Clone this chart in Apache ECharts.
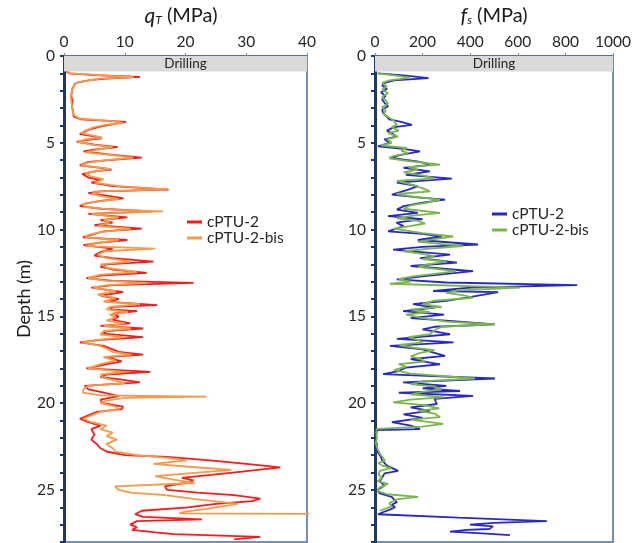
<!DOCTYPE html>
<html>
<head>
<meta charset="utf-8">
<script src="https://cdn.jsdelivr.net/npm/echarts@6/dist/echarts.min.js"></script>
<style>html,body{margin:0;padding:0;background:#fff}#c{width:636px;height:543px}</style>
</head>
<body>
<div id="c"></div>
<script>
// ---------- data ----------
const seriesNames = ['cPTU-2', 'cPTU-2-bis'];
const qtTicks = [0, 10, 20, 30, 40];
const fsTicks = [0, 200, 400, 600, 800, 1000];
const drillingDepth = [0, 0.9];

// qT cPTU-2 (MPa)
const qtRedDepth = [0.9,1.0,1.1,1.2,1.3,1.38,1.5,1.6,1.8,2.0,2.3,2.6,2.9,3.2,3.5,3.65,3.8,3.9,4.0,4.1,4.25,4.4,4.5,4.6,4.75,4.85,4.95,5.1,5.25,5.4,5.5,5.7,5.85,5.95,6.1,6.3,6.45,6.55,6.65,6.8,7.0,7.15,7.3,7.5,7.7,7.8,7.9,8.05,8.2,8.35,8.5,8.65,8.8,8.95,9.1,9.3,9.45,9.6,9.75,9.95,10.1,10.25,10.45,10.6,10.75,10.9,11.1,11.3,11.5,11.65,11.85,12.0,12.15,12.3,12.5,12.65,12.8,12.95,13.07,13.2,13.35,13.6,13.8,14.0,14.15,14.35,14.45,14.6,14.7,14.85,15.0,15.2,15.4,15.55,15.7,15.85,16.0,16.2,16.35,16.5,16.7,16.9,17.05,17.2,17.35,17.6,17.8,18.0,18.2,18.35,18.5,18.65,18.8,19.0,19.2,19.35,19.6,19.8,20.0,20.2,20.35,20.5,20.7,20.9,21.1,21.3,21.5,21.8,22.1,22.4,22.6,22.8,23.0,23.1,23.3,23.5,23.7,23.8,23.95,24.1,24.3,24.45,24.6,24.8,25.0,25.15,25.3,25.5,25.65,25.8,26.0,26.2,26.4,26.55,26.7,26.8,27.0,27.15,27.3,27.45,27.55,27.7,27.85];
const qtRed = [0.4,0.8,5,12.5,7,4.5,2.5,1.8,1.5,1.3,1.2,1.4,1.3,1.5,1.6,2.8,10.2,10.5,7,5.6,4,3.2,2.6,4.5,6.2,3.5,2.1,5,8.8,5,3.2,8,12.8,9,4,2.6,6,7.8,5,3,4,6,4.5,8,17.2,6,4,7,9.8,6,3.5,2.6,6,14.5,4,10.4,6,8,5,12.8,6.5,5,3.1,10.4,6,3.2,8,6,5,8,14.7,7,6,8,13.6,6,3.7,8,21.3,8,4.5,9.7,6,9,7,15.3,8,7.6,12,8,9,8,10.9,6,13,7,6.5,13,6,2.6,6.5,8,9,13,7,9.5,6.5,3.7,14.2,7,6,9.5,12.5,3.4,4,6,9,6,6.4,9.7,9.5,5.4,4,2.6,4,6,4.5,5,4.5,5.5,6,7.1,10,16.9,24,30,35.6,33,29.3,25,19.4,21.3,20,16.6,17,22,28,32.3,31,25,20.4,12.8,11.7,13,22.7,12,10.9,12,11.2,15,18,32.3,28];

// qT cPTU-2-bis (MPa)
const qtOrangeDepth = [0.9,1.0,1.15,1.22,1.3,1.4,1.55,1.8,2.1,2.4,2.8,3.1,3.4,3.6,3.75,3.85,3.95,4.1,4.3,4.45,4.6,4.7,4.8,4.95,5.1,5.25,5.4,5.55,5.7,5.85,6.0,6.15,6.3,6.5,6.6,6.75,6.95,7.1,7.3,7.5,7.68,7.8,7.95,8.1,8.25,8.4,8.55,8.7,8.85,8.95,9.1,9.3,9.45,9.6,9.8,9.95,10.15,10.3,10.45,10.6,10.8,10.95,11.1,11.25,11.45,11.65,11.85,12.0,12.2,12.45,12.6,12.8,12.95,13.07,13.2,13.35,13.55,13.75,13.95,14.15,14.3,14.45,14.6,14.75,14.9,15.05,15.25,15.4,15.55,15.7,15.85,16.05,16.2,16.35,16.5,16.7,16.85,17.05,17.2,17.35,17.55,17.75,18.0,18.2,18.35,18.55,18.7,18.85,19.0,19.2,19.4,19.55,19.62,19.7,19.85,20.0,20.2,20.35,20.5,20.7,20.9,21.1,21.3,21.5,21.7,21.9,22.1,22.35,22.6,22.8,23.0,23.15,23.3,23.5,23.65,23.85,24.0,24.2,24.4,24.6,24.8,25.0,25.15,25.3,25.55,25.8,26.0,26.1,26.25,26.35,26.38];
const qtOrange = [0.5,1,8,11.5,6,4,2,1.4,1.3,1.1,1.3,1.4,1.6,2.5,8,9.8,7,5,3.5,2.8,5,6.3,3.5,2.3,4.5,8,5.5,3.5,7.5,11.4,7,3.8,2.8,7.6,6,3.5,4.5,6.5,5,9,17,5.5,4.5,6.5,9,5,3,3.5,8,16.3,4.5,9,6.5,7.5,5.5,11,6,4,3.5,9,5,3.5,15,6.7,5.5,7,11,6,7,12,6,4,7,13.6,7,4.8,8.5,5.5,8.5,6.5,12.5,7.5,7,10.5,7.5,8.5,7,10,6.5,11,6.5,6,10,5.5,3,6,7,8,11,6.5,8.5,6,4,10,6,6.5,8.5,10,4,3.2,3.1,6,23.5,10,7,6,8.5,9,6,4.5,3.2,4.5,7,6,8,7,8.7,7,8,8.5,12,17,20.2,14.7,20,27.5,22,15,18,21.5,8.4,9,11,16.6,22,28.6,25,23.2,19.9,19,45];

// fs cPTU-2
const fsBlueDepth = [1.0,1.12,1.28,1.4,1.55,1.7,1.9,2.1,2.3,2.5,2.7,2.9,3.1,3.3,3.5,3.65,3.8,3.97,4.1,4.3,4.5,4.64,4.8,5.0,5.2,5.35,5.5,5.7,5.85,6.07,6.26,6.45,6.65,6.85,7.07,7.3,7.5,7.7,7.99,8.15,8.28,8.45,8.65,8.85,9.04,9.23,9.4,9.6,9.8,10.1,10.25,10.4,10.6,10.86,11.0,11.15,11.44,11.65,11.9,12.1,12.4,12.7,12.87,13.05,13.2,13.35,13.54,13.6,13.93,14.1,14.3,14.5,14.7,14.9,15.1,15.27,15.46,15.6,15.75,16.03,16.3,16.5,16.7,16.9,17.1,17.28,17.47,17.76,17.95,18.15,18.33,18.58,18.8,19.0,19.15,19.3,19.4,19.58,19.75,20.05,20.25,20.45,20.65,20.85,21.1,21.3,21.5,21.55,21.8,22.1,22.4,22.7,22.9,23.1,23.3,23.6,23.9,24.05,24.3,24.5,24.75,25.0,25.2,25.4,25.55,25.7,25.85,26.0,26.15,26.3,26.4,26.6,26.8,26.9,27.0,27.1,27.25,27.3,27.4,27.5,27.6];
const fsBlue = [13,120,225,80,40,30,50,25,45,30,40,55,30,35,50,60,110,155,80,50,75,90,40,60,13,120,189,110,63,176,240,120,231,130,323,92,180,140,71,180,294,200,120,92,180,55,200,90,120,55,200,280,180,433,200,76,315,190,344,150,412,200,92,300,849,400,244,517,380,300,160,250,118,290,150,328,504,250,200,315,92,330,63,200,250,294,150,273,130,100,34,504,118,300,200,357,100,412,250,260,150,230,120,200,71,150,189,10,5,3,8,5,15,25,30,50,97,40,30,20,40,10,20,70,80,92,70,84,60,30,13,350,722,500,399,496,480,386,315,450,567];

// fs cPTU-2-bis
const fsGreenDepth = [1.0,1.12,1.25,1.4,1.55,1.75,1.95,2.15,2.35,2.55,2.75,2.95,3.15,3.35,3.55,3.75,3.97,4.1,4.3,4.45,4.64,4.8,5.0,5.15,5.3,5.45,5.6,5.75,5.9,6.05,6.26,6.4,6.55,6.7,6.9,7.05,7.2,7.4,7.6,7.8,7.95,8.1,8.28,8.45,8.6,8.8,9.04,9.2,9.35,9.5,9.65,9.8,9.95,10.2,10.4,10.55,10.7,10.95,11.1,11.25,11.4,11.55,11.7,11.85,12.0,12.15,12.4,12.55,12.7,12.85,13.0,13.12,13.35,13.5,13.65,13.8,13.93,14.1,14.3,14.45,14.6,14.75,14.9,15.1,15.3,15.46,15.6,15.8,16.03,16.2,16.35,16.5,16.65,16.8,16.95,17.1,17.3,17.45,17.6,17.75,17.9,18.1,18.3,18.58,18.75,18.9,19.05,19.2,19.35,19.5,19.65,19.8,19.95,20.1,20.3,20.45,20.6,20.8,20.95,21.2,21.35,21.48,21.7,22.0,22.3,22.6,22.9,23.3,23.45,23.6,23.75,23.9,24.1,24.3,24.5,24.65,24.85,25.05,25.25,25.4,25.55,25.75,25.95,26.1,26.2];
const fsGreen = [10,80,147,60,30,50,30,55,30,45,55,30,45,35,60,80,92,70,100,55,97,50,70,25,134,110,140,80,60,140,273,140,180,120,210,250,92,150,195,231,90,160,273,220,150,120,273,160,92,180,210,147,80,200,328,250,180,370,230,120,200,250,200,300,220,180,340,250,160,100,150,63,609,350,300,380,412,250,200,280,150,230,130,200,300,504,280,250,231,140,180,200,100,160,250,190,150,190,210,100,130,80,150,420,200,150,250,280,200,150,290,150,76,200,270,180,250,273,150,286,200,8,5,8,3,10,20,42,15,30,68,20,15,30,10,55,20,10,50,181,90,60,70,40,20];

// ---------- chart ----------
const FONT = 'Lato, "Open Sans", sans-serif';
const pairs = (d, v) => d.map((y, i) => [v[i], y]);
const chart = echarts.init(document.getElementById('c'), null, {renderer: 'canvas'});

function xAx(grid, ticks) {
  return {
    gridIndex: grid, type: 'value', position: 'top',
    min: ticks[0], max: ticks[ticks.length - 1], interval: ticks[1] - ticks[0],
    axisLine: {show: true, lineStyle: {color: '#4A6B9A', width: 1.5}},
    axisTick: {show: true, length: 3, lineStyle: {color: '#8a8a8a'}},
    axisLabel: {fontSize: 15.5, color: '#262626', fontFamily: FONT, margin: 6,
      formatter: v => String(v)},
    splitLine: {show: false}
  };
}
function yAx(grid, withName) {
  const a = {
    gridIndex: grid, type: 'value', inverse: true, min: 0, max: 28, interval: 1,
    axisLine: {show: true, lineStyle: {color: '#1F3864', width: 3}},
    axisTick: {show: true, length: 4, lineStyle: {color: '#1F3864', width: 2}},
    axisLabel: {fontSize: 15.5, color: '#262626', fontFamily: FONT, margin: 9,
      formatter: v => (v % 5 === 0 ? String(v) : '')},
    splitLine: {show: false}
  };
  if (withName) {
    a.name = 'Depth (m)'; a.nameLocation = 'middle'; a.nameGap = 31;
    a.nameTextStyle = {fontSize: 18, color: '#1a1a1a', fontFamily: FONT};
  }
  return a;
}
function drillArea(xmax) {
  return {
    silent: true,
    itemStyle: {color: '#D9D9D9'},
    label: {show: true, position: 'inside', color: '#262626', fontSize: 13.5, fontFamily: FONT},
    data: [[{name: 'Drilling', xAxis: 0, yAxis: drillingDepth[0]}, {xAxis: xmax, yAxis: drillingDepth[1]}]]
  };
}
function line(name, xi, data, color, extra) {
  return Object.assign({
    name: name, type: 'line', xAxisIndex: xi, yAxisIndex: xi, data: data,
    showSymbol: false, symbol: 'none', clip: true,
    lineStyle: {color: color, width: 1.8}, itemStyle: {color: color}
  }, extra || {});
}
const legendText = {fontSize: 15.5, color: '#262626', fontFamily: FONT, lineHeight: 15};

chart.setOption({
  animation: false,
  backgroundColor: '#fff',
  grid: [
    {left: 64, top: 56, width: 243, height: 486, show: true, borderColor: '#4A6B9A', borderWidth: 1.5},
    {left: 375, top: 56, width: 238, height: 486, show: true, borderColor: '#4A6B9A', borderWidth: 1.5}
  ],
  xAxis: [xAx(0, qtTicks), xAx(1, fsTicks)],
  yAxis: [yAx(0, true), yAx(1, false)],
  legend: [
    {left: 182, top: 209, orient: 'vertical', itemGap: 0, itemWidth: 15, itemHeight: 3, icon: 'rect',
     textStyle: legendText,
     data: [{name: seriesNames[0], itemStyle: {color: '#FF1A1A'}}, {name: seriesNames[1], itemStyle: {color: '#F59A4A'}}]},
    {left: 487, top: 201, orient: 'vertical', itemGap: 0, itemWidth: 15, itemHeight: 3, icon: 'rect',
     textStyle: legendText,
     data: [{name: seriesNames[0], itemStyle: {color: '#2828C8'}}, {name: seriesNames[1], itemStyle: {color: '#7AB648'}}]}
  ],
  graphic: [
    {type: 'text', x: 181, y: 16, style: {
      text: '{q|q}{s|T}{n| (MPa)}', align: 'center', verticalAlign: 'middle',
      rich: {q: {fontSize: 21, fontStyle: 'italic', fontFamily: FONT, fill: '#1a1a1a'},
             s: {fontSize: 12, fontStyle: 'italic', fontFamily: FONT, fill: '#1a1a1a', verticalAlign: 'bottom'},
             n: {fontSize: 20, fontFamily: FONT, fill: '#1a1a1a'}}}},
    {type: 'text', x: 494, y: 16, style: {
      text: '{q|f}{s|s}{n| (MPa)}', align: 'center', verticalAlign: 'middle',
      rich: {q: {fontSize: 21, fontStyle: 'italic', fontFamily: FONT, fill: '#1a1a1a'},
             s: {fontSize: 12, fontStyle: 'italic', fontFamily: FONT, fill: '#1a1a1a', verticalAlign: 'bottom'},
             n: {fontSize: 20, fontFamily: FONT, fill: '#1a1a1a'}}}}
  ],
  series: [
    line(seriesNames[0], 0, pairs(qtRedDepth, qtRed), '#FF1A1A', {markArea: drillArea(40)}),
    line(seriesNames[1], 0, pairs(qtOrangeDepth, qtOrange), '#F59A4A'),
    line(seriesNames[0], 1, pairs(fsBlueDepth, fsBlue), '#2828C8', {markArea: drillArea(1000)}),
    line(seriesNames[1], 1, pairs(fsGreenDepth, fsGreen), '#7AB648')
  ]
});
</script>
</body>
</html>
